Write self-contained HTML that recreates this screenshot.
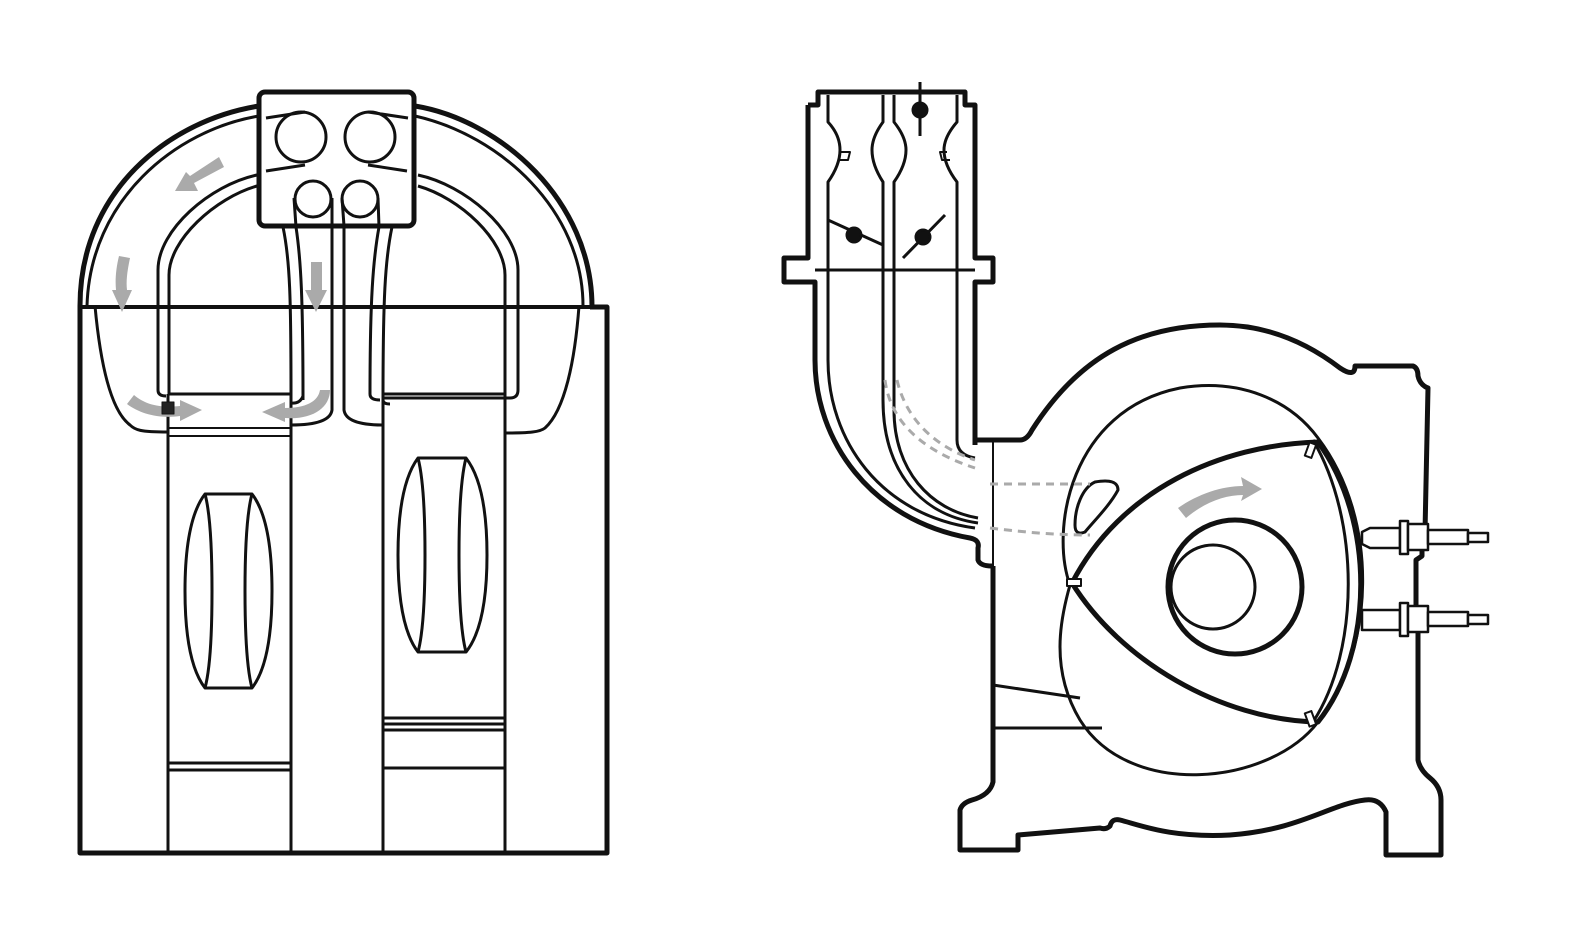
<!DOCTYPE html>
<html><head><meta charset="utf-8"><style>html,body{margin:0;padding:0;background:#fff}svg{display:block}</style></head><body>
<svg width="1575" height="945" viewBox="0 0 1575 945" xmlns="http://www.w3.org/2000/svg" fill="none" stroke="#111" stroke-linejoin="round">
<!-- LEFT FIGURE -->
<g stroke-width="3">
<path d="M80,306 C80,190 170,120 259,106 M415,106 C500,120 592,200 592,307" stroke-width="5"/>
<path d="M87,306 C90,200 175,130 259,116 M415,116 C500,135 583,210 583,306"/>
<path d="M80,306 L80,853 L607,853 L607,307 L590,307" stroke-width="5"/>
<line x1="80" y1="307" x2="590" y2="307" stroke-width="4"/>
<path d="M95,306 C100,360 110,410 130,425 C135,430 140,432 168,432"/>
<path d="M579,306 C575,360 565,410 545,428 C540,432 530,433 505,433"/>
<path d="M257,175 C210,185 158,230 158,270 L158,390 Q158,396 166,396"/>
<path d="M257,186 C215,198 169,240 169,275 L169,394"/>
<path d="M418,175 C465,185 518,230 518,270 L518,390 Q518,398 510,398 L383,398"/>
<path d="M418,186 C460,198 505,240 505,275 L505,394 L383,394"/>
<line x1="169" y1="394" x2="291" y2="394"/>
<path d="M283,227 C290,260 291,300 291,394 L291,403 Q300,404 303,396"/>
<path d="M296,227 C301,260 303,300 303,400"/>
<path d="M332,215 L332,410 Q330,425 291,425"/>
<path d="M344,215 L344,410 Q346,425 383,425"/>
<path d="M392,227 C385,260 383,300 383,400 Q383,404 390,404"/>
<path d="M379,227 C373,260 370,300 370,394 Q370,400 380,400"/>
<line x1="168" y1="394" x2="168" y2="853"/>
<line x1="291" y1="403" x2="291" y2="853"/>
<line x1="383" y1="398" x2="383" y2="853"/>
<line x1="505" y1="394" x2="505" y2="853"/>
<path d="M168,428 L291,428 M168,436 L291,436" stroke-width="2"/>
<path d="M168,763 L291,763 M168,770 L291,770"/>
<path d="M383,718 L505,718 M383,724 L505,724 M383,730 L505,730 M383,768 L505,768"/>
<path d="M205,494 L252,494 Q272,520 272,591 Q272,662 252,688 L205,688 Q185,662 185,591 Q185,520 205,494 Z"/>
<path d="M205,494 Q212,520 212,591 Q212,662 205,688 M252,494 Q245,520 245,591 Q245,662 252,688"/>
<path d="M418,458 L466,458 Q487,485 487,555 Q487,626 466,652 L418,652 Q398,626 398,555 Q398,485 418,458 Z"/>
<path d="M418,458 Q425,485 425,555 Q425,626 418,652 M466,458 Q459,485 459,555 Q459,626 466,652"/>
<rect x="259" y="92" width="155" height="134" rx="6" fill="#fff" stroke-width="5"/>
<circle cx="301" cy="137" r="25"/><circle cx="370" cy="137" r="25"/>
<circle cx="313" cy="199" r="18"/><circle cx="360" cy="199" r="18"/>
<path d="M266,118 L305,112 M266,171 L305,165 M408,118 L368,112 M407,171 L368,165"/>
<path d="M294,198 L296,227 M332,198 L332,226 M342,198 L344,226 M378,198 L379,227"/>
</g>
<g fill="#aaa" stroke="none">
<path d="M219,157 L224,167 L194,183 L198,191 L175,191 L186,172 L190,176 Z"/>
<path d="M119,256 L130,258 C127,272 126,282 127,290 L132,290 L122,312 L112,290 L116,290 C115,280 116,268 119,256 Z"/>
<path d="M311,262 L322,262 L322,290 L327,290 L316,312 L305,290 L311,290 Z"/>
<path d="M134,395 C146,405 160,408 180,406 L180,400 L202,410 L180,421 L180,416 C160,419 140,414 127,404 Z"/>
<path d="M320,390 C318,402 305,408 285,408 L285,402 L262,412 L285,422 L285,418 C312,420 330,408 330,390 Z"/>
</g>
<rect x="162" y="402" width="12" height="12" fill="#222"/>
<!-- RIGHT FIGURE -->
<g stroke-width="5">
<path d="M808,105 L808,258 L784,258 L784,282 L815,282 L815,360 C815,440 870,520 970,538 Q980,540 978,548 L978,560 Q980,566 992,566"/>
<path d="M808,105 L818,105 L818,92 L965,92 L965,105 L975,105 L975,258 L993,258 L993,282 L975,282 L975,445"/>
<path d="M975,445 L975,440 L1020,440 Q1027,440 1032,430 C1080,355 1140,325 1220,325 C1270,325 1310,345 1340,368 Q1355,378 1355,366 L1413,366 Q1418,368 1418,376 Q1420,385 1428,388 L1425,532 L1418,535 L1418,545 L1422,548 L1422,556 L1416,560 L1416,610 L1422,612 L1422,624 L1418,628 L1418,760 Q1420,770 1430,778 Q1441,787 1441,800 L1441,855 L1386,855 L1386,812 Q1380,798 1365,800 C1330,804 1300,830 1230,835 C1170,838 1140,825 1120,820 Q1112,818 1110,826 Q1106,830 1100,828 L1018,835 L1018,850 L960,850 L960,810 Q962,803 972,800 Q990,795 993,782 L993,566"/>
<line x1="993" y1="566" x2="993" y2="440" stroke-width="2"/>
</g>
<g stroke-width="3">
<path d="M828,95 L828,122 Q840,135 840,150 Q840,165 828,182 L828,282 L828,360 C828,440 880,515 975,528"/>
<path d="M883,95 L883,122 Q872,137 872,150 Q872,165 883,182 L883,282 L883,400 C883,470 920,515 978,523"/>
<path d="M894,95 L894,122 Q906,137 906,150 Q906,165 894,182 L894,282 L894,410 C894,470 930,510 978,518"/>
<path d="M957,95 L957,122 Q944,137 944,150 Q944,165 957,182 L957,282 L957,440 Q957,455 975,458"/>
<path d="M815,270 L975,270"/>
<path d="M840,152 L850,152 L848,160 L840,160 M947,152 L940,152 L942,160 L950,160" stroke-width="2"/>
<line x1="920" y1="82" x2="920" y2="136"/>
<circle cx="920" cy="110" r="7" fill="#111"/>
<path d="M828,220 L883,245"/><circle cx="854" cy="235" r="7" fill="#111"/>
<path d="M903,258 L945,215"/><circle cx="923" cy="237" r="7" fill="#111"/>
<path d="M993,685 L1080,698 M993,728 L1102,728"/>
<path d="M1318,438 C1380,520 1375,650 1318,722 C1270,785 1130,800 1080,720 C1050,670 1060,620 1070,585 C1050,530 1070,410 1180,388 C1240,378 1290,400 1318,438 Z"/>
<path d="M1313,440 C1360,520 1360,650 1313,722"/>
</g>
<g stroke-width="5">
<path d="M1318,442 C1220,445 1120,490 1072,583 C1120,660 1220,720 1318,722 C1375,650 1375,520 1318,442 Z"/>
<circle cx="1235" cy="587" r="67"/>
</g>
<circle cx="1213" cy="587" r="42" stroke-width="3"/>
<g stroke-width="2" fill="#fff"><rect x="1307" y="443" width="7" height="14" transform="rotate(20 1310 450)"/><rect x="1067" y="579" width="14" height="7"/><rect x="1307" y="712" width="7" height="14" transform="rotate(-20 1310 719)"/></g>
<path d="M1095,482 Q1118,478 1118,490 C1110,505 1095,520 1085,532 Q1075,536 1075,525 C1075,508 1082,488 1095,482 Z" stroke-width="3"/>
<g stroke="#aaa" stroke-width="3" stroke-dasharray="8,6">
<path d="M885,380 C890,420 920,450 975,468"/>
<path d="M897,380 C905,415 930,445 975,460"/>
<path d="M990,484 L1090,484 M990,528 C1030,533 1060,535 1090,535"/>
</g>
<path d="M1178,508 C1198,494 1222,486 1243,486 L1241,477 L1262,489 L1241,501 L1243,495 C1225,495 1205,502 1186,518 Z" fill="#aaa" stroke="none"/>
<g stroke-width="2.5" fill="#fff">
<path d="M1362,532 L1370,528 L1400,528 L1400,548 L1370,548 L1362,544 Z"/><rect x="1400" y="521" width="8" height="33"/><rect x="1408" y="524" width="20" height="26"/><rect x="1428" y="530" width="40" height="14"/><rect x="1468" y="533" width="20" height="9"/>
<path d="M1362,610 L1400,610 L1400,630 L1362,630 Z"/><rect x="1400" y="603" width="8" height="33"/><rect x="1408" y="606" width="20" height="26"/><rect x="1428" y="612" width="40" height="14"/><rect x="1468" y="615" width="20" height="9"/>
</g>
</svg>
</body></html>
